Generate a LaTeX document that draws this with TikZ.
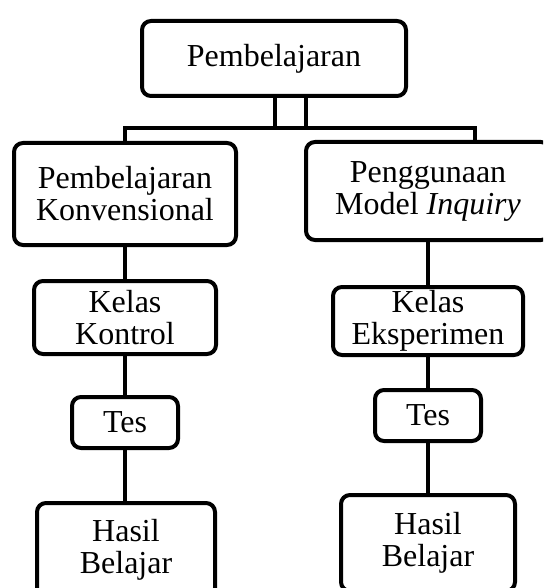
\documentclass[tikz,border=0pt]{standalone}
\usepackage{fontspec}
\setmainfont{Liberation Serif}
\begin{document}
\begin{tikzpicture}[x=1pt,y=1pt,
   kotak/.style={draw=black,line width=4pt,rounded corners=9pt,fill=white,
     align=center,inner sep=0pt,font=\fontsize{32}{32}\selectfont},
   garis/.style={black,line width=4pt}]
   \useasboundingbox (0,0) rectangle (543,-588);
   \clip (0,0) rectangle (543,-588);
   \node [kotak,minimum width=264pt,minimum height=75pt] (pemb) at (274,-58.5) {Pembelajaran};
   \node [kotak,minimum width=222pt,minimum height=102pt] (konv) at (125,-194) {Pembelajaran\\Konvensional};
   \node [kotak,minimum width=244pt,minimum height=98pt] (inq) at (428,-191) {Penggunaan\\Model \textit{Inquiry}};
   \node [kotak,minimum width=182pt,minimum height=73pt] (kontrol) at (125,-317.5) {Kelas\\Kontrol};
   \node [kotak,minimum width=190pt,minimum height=68pt] (eksp) at (428,-321) {Kelas\\Eksperimen};
   \node [kotak,minimum width=106pt,minimum height=51pt] (tesL) at (125,-422.5) {Tes};
   \node [kotak,minimum width=106pt,minimum height=51pt] (tesR) at (428,-415.5) {Tes};
   \node [kotak,minimum width=178pt,minimum height=94pt] (hasilL) at (126,-550) {Hasil\\Belajar};
   \node [kotak,minimum width=174pt,minimum height=96pt] (hasilR) at (428,-543) {Hasil\\Belajar};
   \coordinate (simpulL) at (125,-128);
   \coordinate (simpulR) at (475,-128);
   \draw [garis] ([xshift=1pt]pemb.south) -- ([xshift=1pt]pemb.south |- simpulL);
   \draw [garis] ([xshift=32pt]pemb.south) -- ([xshift=32pt]pemb.south |- simpulL);
   \draw [garis] (konv.north) |- (simpulR) -- (simpulR |- inq.north);
   \draw [garis] (konv) -- (kontrol);
   \draw [garis] (kontrol) -- (tesL);
   \draw [garis] (tesL) -- (hasilL.north -| tesL.south);
   \draw [garis] (inq) -- (eksp);
   \draw [garis] (eksp) -- (tesR);
   \draw [garis] (tesR) -- (hasilR);
\end{tikzpicture}
\end{document}
